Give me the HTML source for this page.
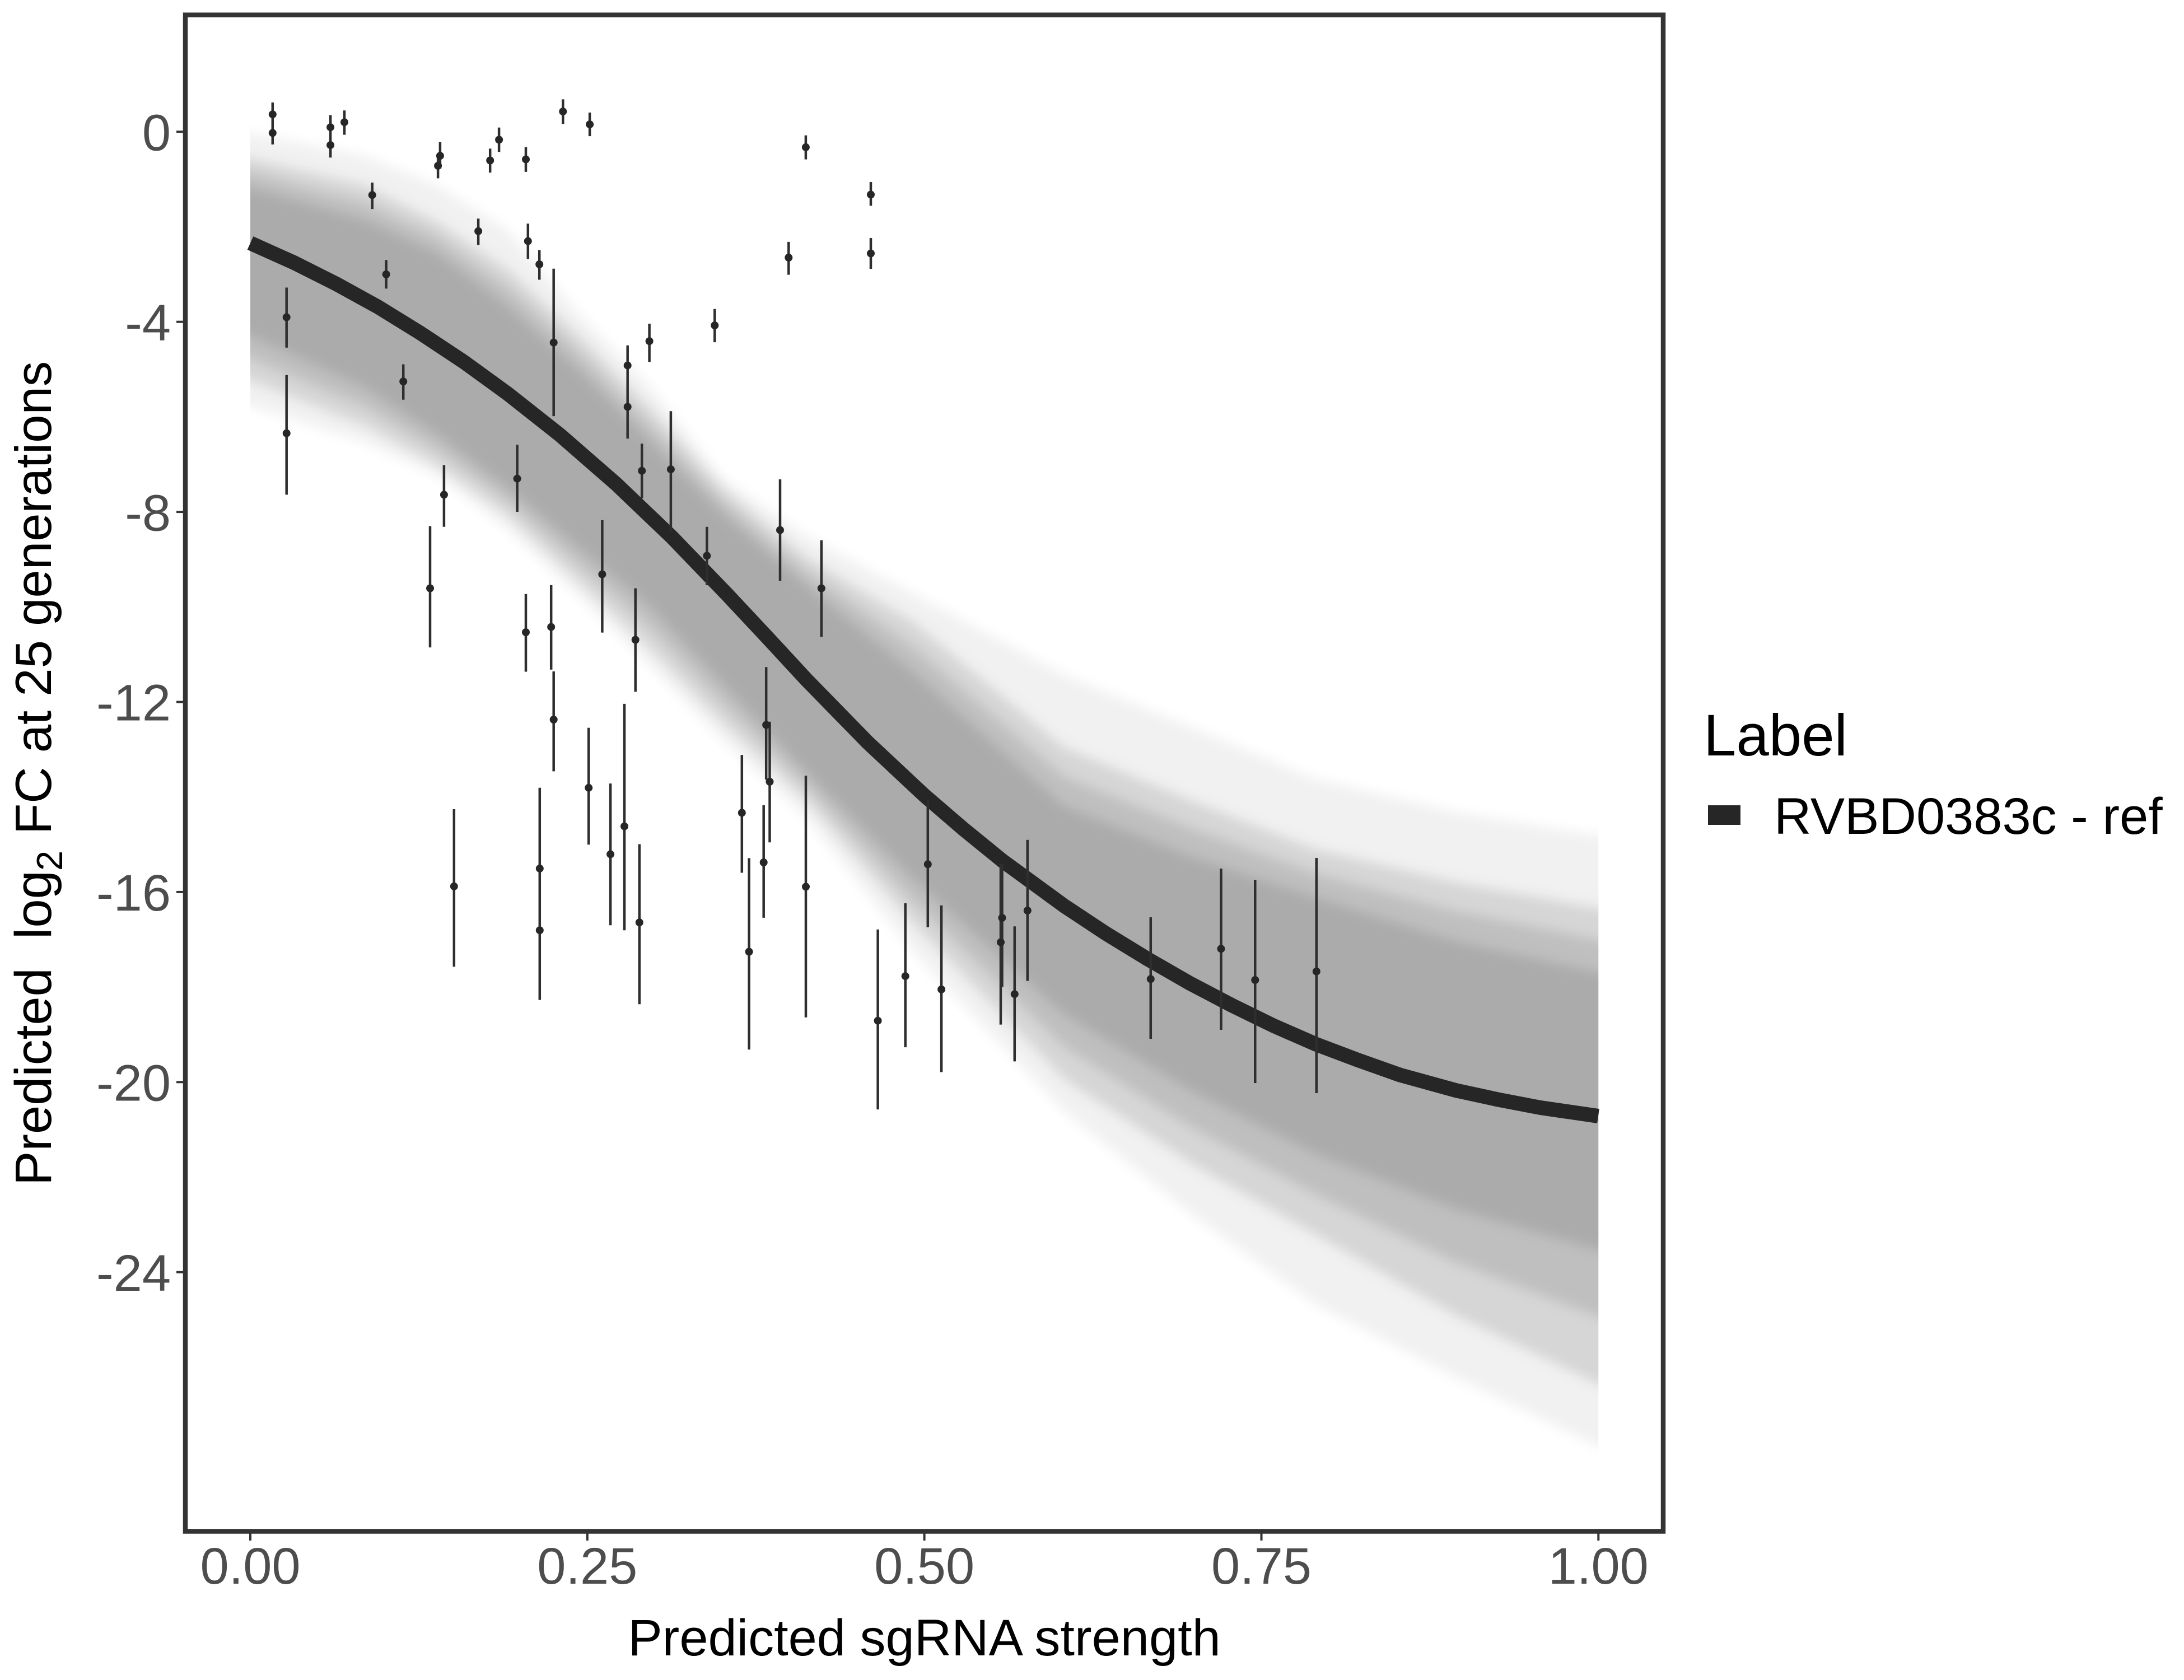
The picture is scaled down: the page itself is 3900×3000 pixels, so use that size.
<!DOCTYPE html>
<html>
<head>
<meta charset="utf-8">
<style>
html,body{margin:0;padding:0;background:#fff;}
svg{display:block;}
text{font-family:"Liberation Sans",Arial,sans-serif;}
</style>
</head>
<body>
<svg width="3900" height="3000" viewBox="0 0 3900 3000" xmlns="http://www.w3.org/2000/svg">
<defs>
<filter id="soft" filterUnits="userSpaceOnUse" x="300" y="100" width="2750" height="2650">
<feGaussianBlur stdDeviation="11"/>
</filter>
<clipPath id="bandclip"><rect x="447" y="0" width="2407.3" height="3000"/></clipPath>
</defs>
<rect x="0" y="0" width="3900" height="3000" fill="#ffffff"/>

<!-- posterior band layers -->
<g clip-path="url(#bandclip)">
<g filter="url(#soft)">
<polygon fill="#F1F1F1" points="390,230 447,238 651,278 779,330 906,410 1034,560 1162,692 1289,852 1440,957 1631,1060 1900,1205 2130,1300 2349,1391 2600,1450 2854,1492 2920,1500 2920,2600 2854,2582 2600,2460 2349,2329 2130,2170 1900,1984 1631,1700 1440,1460 1289,1320 1162,1190 1034,1065 906,945 779,848 651,790 447,725 390,710"/>
<polygon fill="#D6D6D6" points="390,270 447,282 651,330 779,395 906,480 1034,600 1162,730 1289,870 1440,995 1631,1110 1900,1334 2130,1430 2349,1516 2600,1575 2854,1621 2920,1630 2920,2495 2854,2472 2600,2350 2349,2205 2130,2080 1900,1927 1631,1650 1440,1430 1289,1290 1162,1160 1034,1040 906,920 779,830 651,760 447,680 390,665"/>
<polygon fill="#BFBFBF" points="390,296 447,308 651,361 779,422 906,512 1034,630 1162,759 1289,892 1440,1020 1631,1155 1900,1386 2130,1480 2349,1559 2600,1627 2854,1678 2920,1688 2920,2372 2854,2352 2600,2255 2349,2133 2130,2015 1900,1869 1631,1610 1440,1405 1289,1255 1162,1122 1034,1009 906,895 779,802 651,726 447,640 390,628"/>
<polygon fill="#ABABAB" points="390,322 447,335 651,392 779,450 906,545 1034,660 1162,788 1289,915 1440,1045 1631,1200 1900,1439 2130,1530 2349,1602 2600,1680 2854,1736 2920,1746 2920,2250 2854,2233 2600,2160 2349,2061 2130,1950 1900,1812 1631,1570 1440,1380 1289,1220 1162,1085 1034,979 906,871 779,775 651,692 447,600 390,588"/>
</g>
</g>

<!-- main fitted curve -->
<polyline fill="none" stroke="#262626" stroke-width="26" stroke-linejoin="round" stroke-linecap="butt"
points="447,434 525,469 600,506.7 675,548 750,594.3 828,646 906,702.6 1000,776.8 1100,863.9 1200,959.4 1300,1063.2 1370,1138 1440,1213.7 1550,1326.3 1650,1419.8 1720,1480 1790,1537 1900,1617.4 1975,1667 2050,1712.9 2125,1756 2200,1795.3 2275,1832 2349,1864.3 2425,1893 2500,1919.6 2600,1947.2 2675,1963.5 2750,1977.9 2854,1993"/>

<!-- error bars -->
<g stroke="#2E2E2E" stroke-width="4.5">
<line x1="486.8" y1="183" x2="486.8" y2="258"/>
<line x1="511.7" y1="513.5" x2="511.7" y2="620.7"/>
<line x1="511.7" y1="669.8" x2="511.7" y2="883.4"/>
<line x1="590.1" y1="205.5" x2="590.1" y2="281.4"/>
<line x1="615" y1="197.2" x2="615" y2="240.6"/>
<line x1="664.7" y1="326" x2="664.7" y2="373.2"/>
<line x1="689.6" y1="464.4" x2="689.6" y2="515.4"/>
<line x1="720.2" y1="650.6" x2="720.2" y2="713.8"/>
<line x1="768" y1="939.5" x2="768" y2="1156.1"/>
<line x1="782.1" y1="277.6" x2="782.1" y2="318.4"/>
<line x1="785.9" y1="254" x2="785.9" y2="301"/>
<line x1="792.9" y1="830.5" x2="792.9" y2="940.8"/>
<line x1="854.1" y1="390.4" x2="854.1" y2="437.6"/>
<line x1="875.2" y1="265.4" x2="875.2" y2="308.2"/>
<line x1="891.1" y1="227.8" x2="891.1" y2="271.2"/>
<line x1="923.6" y1="794.1" x2="923.6" y2="914"/>
<line x1="939" y1="262.9" x2="939" y2="306.9"/>
<line x1="939" y1="1060.7" x2="939" y2="1199.5"/>
<line x1="942.8" y1="399.4" x2="942.8" y2="462.5"/>
<line x1="963.2" y1="446.6" x2="963.2" y2="499.5"/>
<line x1="984.2" y1="1044.8" x2="984.2" y2="1195.7"/>
<line x1="988.7" y1="479.7" x2="988.7" y2="743.1"/>
<line x1="1005.3" y1="177.4" x2="1005.3" y2="221.4"/>
<line x1="1053.1" y1="201" x2="1053.1" y2="243.1"/>
<line x1="1075.4" y1="928.7" x2="1075.4" y2="1129.6"/>
<line x1="1120.7" y1="616.8" x2="1120.7" y2="783.3"/>
<line x1="1134.7" y1="1050.5" x2="1134.7" y2="1235.2"/>
<line x1="1146.2" y1="792.2" x2="1146.2" y2="889.8"/>
<line x1="1159.6" y1="578" x2="1159.6" y2="646.2"/>
<line x1="1197.9" y1="734.2" x2="1197.9" y2="949.1"/>
<line x1="1262.3" y1="940.8" x2="1262.3" y2="1045"/>
<line x1="1276.3" y1="551.8" x2="1276.3" y2="611.1"/>
<line x1="1393" y1="856" x2="1393" y2="1037.1"/>
<line x1="1408.3" y1="431.9" x2="1408.3" y2="490.6"/>
<line x1="1438.9" y1="241.8" x2="1438.9" y2="284.6"/>
<line x1="810.8" y1="1445" x2="810.8" y2="1726.3"/>
<line x1="963.8" y1="1406.8" x2="963.8" y2="1785.6"/>
<line x1="988.7" y1="1198.9" x2="988.7" y2="1377.4"/>
<line x1="1051.2" y1="1299.6" x2="1051.2" y2="1508.2"/>
<line x1="1090.1" y1="1399.1" x2="1090.1" y2="1652.3"/>
<line x1="1115" y1="1256.9" x2="1115" y2="1661.2"/>
<line x1="1141.8" y1="1507.5" x2="1141.8" y2="1793.2"/>
<line x1="1324.8" y1="1348.1" x2="1324.8" y2="1558.5"/>
<line x1="1337.6" y1="1532.4" x2="1337.6" y2="1874.2"/>
<line x1="1363.7" y1="1438" x2="1363.7" y2="1638.9"/>
<line x1="1368.2" y1="1191.2" x2="1368.2" y2="1392.1"/>
<line x1="1374.5" y1="1288.8" x2="1374.5" y2="1504.3"/>
<line x1="1439" y1="1385.1" x2="1439" y2="1816.8"/>
<line x1="1466.8" y1="964.8" x2="1466.8" y2="1137"/>
<line x1="1567.6" y1="1659.7" x2="1567.6" y2="1981.1"/>
<line x1="1616.7" y1="1613" x2="1616.7" y2="1870.1"/>
<line x1="1656.8" y1="1429.3" x2="1656.8" y2="1655.8"/>
<line x1="1681.1" y1="1616.8" x2="1681.1" y2="1914.5"/>
<line x1="1787" y1="1542" x2="1787" y2="1829.6"/>
<line x1="1789.5" y1="1542" x2="1789.5" y2="1762.2"/>
<line x1="1811.8" y1="1654.3" x2="1811.8" y2="1895.4"/>
<line x1="1834.8" y1="1499.7" x2="1834.8" y2="1751.5"/>
<line x1="2054.8" y1="1638" x2="2054.8" y2="1855"/>
<line x1="2180.5" y1="1551" x2="2180.5" y2="1839"/>
<line x1="2241.3" y1="1571" x2="2241.3" y2="1934"/>
<line x1="2350.8" y1="1532" x2="2350.8" y2="1952"/>
<line x1="1555" y1="325" x2="1555" y2="367.5"/>
<line x1="1555" y1="425" x2="1555" y2="480"/>
</g>

<!-- points -->
<g fill="#262626">
<circle cx="486.8" cy="204.2" r="7"/><circle cx="486.8" cy="237.4" r="7"/>
<circle cx="511.7" cy="566.5" r="7"/><circle cx="511.7" cy="773.7" r="7"/>
<circle cx="590.1" cy="227.2" r="7"/><circle cx="590.1" cy="259.1" r="7"/>
<circle cx="615" cy="218.2" r="7"/><circle cx="664.7" cy="348.3" r="7"/>
<circle cx="689.6" cy="489.9" r="7"/><circle cx="720.2" cy="681.2" r="7"/>
<circle cx="768" cy="1050.5" r="7"/><circle cx="782.1" cy="296" r="7"/>
<circle cx="785.9" cy="278.2" r="7"/><circle cx="792.9" cy="883.4" r="7"/>
<circle cx="854.1" cy="412.8" r="7"/><circle cx="875.2" cy="286.5" r="7"/>
<circle cx="891.1" cy="249.5" r="7"/><circle cx="923.6" cy="854.7" r="7"/>
<circle cx="939" cy="284.6" r="7"/><circle cx="939" cy="1129" r="7"/>
<circle cx="942.8" cy="430.6" r="7"/><circle cx="963.2" cy="472" r="7"/>
<circle cx="984.2" cy="1119.6" r="7"/><circle cx="988.7" cy="611.7" r="7"/>
<circle cx="1005.3" cy="199.1" r="7"/><circle cx="1053.1" cy="222.1" r="7"/>
<circle cx="1075.4" cy="1025.6" r="7"/><circle cx="1120.7" cy="652.6" r="7"/>
<circle cx="1120.7" cy="726.5" r="7"/><circle cx="1134.7" cy="1142.5" r="7"/>
<circle cx="1146.2" cy="840.7" r="7"/><circle cx="1159.6" cy="609.2" r="7"/>
<circle cx="1197.9" cy="838.1" r="7"/><circle cx="1262.3" cy="992.5" r="7"/>
<circle cx="1276.3" cy="581.1" r="7"/><circle cx="1393" cy="946.6" r="7"/>
<circle cx="1408.3" cy="460" r="7"/><circle cx="1438.9" cy="262.9" r="7"/>
<circle cx="810.8" cy="1582.8" r="7"/><circle cx="963.8" cy="1550.9" r="7"/>
<circle cx="963.8" cy="1661.2" r="7"/><circle cx="988.7" cy="1285" r="7"/>
<circle cx="1051.2" cy="1406.8" r="7"/><circle cx="1090.1" cy="1525.4" r="7"/>
<circle cx="1115" cy="1475.6" r="7"/><circle cx="1141.8" cy="1647.2" r="7"/>
<circle cx="1324.8" cy="1451.4" r="7"/><circle cx="1337.6" cy="1699.5" r="7"/>
<circle cx="1363.7" cy="1540" r="7"/><circle cx="1368.2" cy="1294.5" r="7"/>
<circle cx="1374.5" cy="1395.9" r="7"/><circle cx="1439" cy="1583.4" r="7"/>
<circle cx="1466.8" cy="1050.5" r="7"/><circle cx="1567.6" cy="1822.7" r="7"/>
<circle cx="1616.7" cy="1743.1" r="7"/><circle cx="1656.8" cy="1543.3" r="7"/>
<circle cx="1681.1" cy="1766.8" r="7"/><circle cx="1787" cy="1682.6" r="7"/>
<circle cx="1789.5" cy="1639" r="7"/><circle cx="1811.8" cy="1775.2" r="7"/>
<circle cx="1834.8" cy="1626" r="7"/><circle cx="2054.8" cy="1748.3" r="7"/>
<circle cx="2180.5" cy="1694.3" r="7"/><circle cx="2241.3" cy="1750" r="7"/>
<circle cx="2350.8" cy="1734.7" r="7"/><circle cx="1555" cy="347.5" r="7"/>
<circle cx="1555" cy="452.5" r="7"/>
</g>

<!-- panel border -->
<rect x="331" y="26.7" width="2639" height="2707.8" fill="none" stroke="#333333" stroke-width="8.5"/>

<!-- y ticks -->
<g stroke="#333333" stroke-width="4">
<line x1="315" y1="235.3" x2="327" y2="235.3"/>
<line x1="315" y1="574.7" x2="327" y2="574.7"/>
<line x1="315" y1="914.1" x2="327" y2="914.1"/>
<line x1="315" y1="1253.5" x2="327" y2="1253.5"/>
<line x1="315" y1="1592.9" x2="327" y2="1592.9"/>
<line x1="315" y1="1932.3" x2="327" y2="1932.3"/>
<line x1="315" y1="2271.7" x2="327" y2="2271.7"/>
</g>
<!-- x ticks -->
<g stroke="#333333" stroke-width="4">
<line x1="447" y1="2738" x2="447" y2="2751"/>
<line x1="1048.8" y1="2738" x2="1048.8" y2="2751"/>
<line x1="1650.6" y1="2738" x2="1650.6" y2="2751"/>
<line x1="2252.5" y1="2738" x2="2252.5" y2="2751"/>
<line x1="2854.3" y1="2738" x2="2854.3" y2="2751"/>
</g>

<!-- y tick labels -->
<g fill="#4D4D4D" font-size="92" text-anchor="end">
<text x="305" y="268.5">0</text>
<text x="305" y="607.9">-4</text>
<text x="305" y="947.3">-8</text>
<text x="305" y="1286.7">-12</text>
<text x="305" y="1626.1">-16</text>
<text x="305" y="1965.5">-20</text>
<text x="305" y="2304.9">-24</text>
</g>
<!-- x tick labels -->
<g fill="#4D4D4D" font-size="92" text-anchor="middle">
<text x="447" y="2828">0.00</text>
<text x="1048.8" y="2828">0.25</text>
<text x="1650.6" y="2828">0.50</text>
<text x="2252.5" y="2828">0.75</text>
<text x="2854.3" y="2828">1.00</text>
</g>

<!-- axis titles -->
<text x="1650.6" y="2956" font-size="92" fill="#000" text-anchor="middle">Predicted sgRNA strength</text>
<g transform="translate(91,0) rotate(-90)" fill="#000">
<text x="-2117" y="0" font-size="92">Predicted</text>
<text x="-1677" y="0" font-size="92">log</text>
<text x="-1555" y="20" font-size="65">2</text>
<text x="-1490" y="0" font-size="90.5">FC at 25 generations</text>
</g>

<!-- legend -->
<text x="3042" y="1349" font-size="105" fill="#000">Label</text>
<rect x="3050" y="1438" width="58" height="35" fill="#262626"/>
<text x="3168" y="1489" font-size="92" fill="#000">RVBD0383c - ref</text>
</svg>
</body>
</html>
